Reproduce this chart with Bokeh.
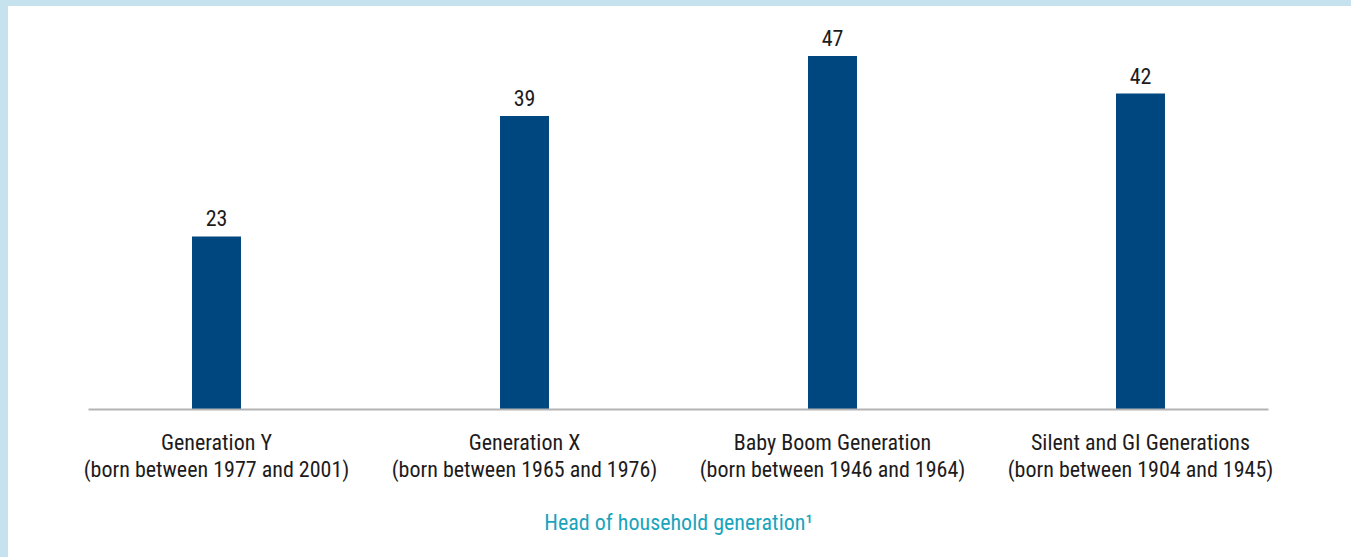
from bokeh.plotting import figure
from bokeh.models import Range1d, FixedTicker, ColumnDataSource, Spacer
from bokeh.layouts import row, column
from bokeh.core.properties import value
from bokeh.embed import file_html
from bokeh.resources import INLINE

categories = [
    "Generation Y\n(born between 1977 and 2001)",
    "Generation X\n(born between 1965 and 1976)",
    "Baby Boom Generation\n(born between 1946 and 1964)",
    "Silent and GI Generations\n(born between 1904 and 1945)",
]
values = [23, 39, 47, 42]
axis_title = "Head of household generation\u00b9"

FONT = "Roboto Condensed"
TXT = "#1e1b1c"
FRAME_BG = "#c6e2ef"

xs = list(range(len(categories)))
src = ColumnDataSource(dict(x=xs, top=values, lbl=[str(v) for v in values]))

p = figure(width=1343, height=551, output_backend="svg", toolbar_location=None,
           x_range=Range1d(-0.4156, 3.4156), y_range=Range1d(0, 53.3),
           min_border_left=80, min_border_right=83, min_border_top=2, min_border_bottom=148)
p.outline_line_color = None
p.background_fill_color = "white"
p.border_fill_color = "white"
p.xgrid.visible = False
p.ygrid.visible = False
p.yaxis.visible = False

p.vbar(x="x", top="top", width=0.159, bottom=0, source=src, fill_color="#00467f", line_color=None)
p.text(x="x", y="top", text="lbl", source=src, y_offset=-10, text_align="center",
       text_baseline="bottom", text_font=value(FONT), text_font_size="22px", text_color=TXT)

ax = p.xaxis[0]
ax.ticker = FixedTicker(ticks=xs)
ax.major_label_overrides = {i: c for i, c in zip(xs, categories)}
ax.major_tick_line_color = None
ax.minor_tick_line_color = None
ax.major_tick_out = 0
ax.major_tick_in = 0
ax.axis_line_color = "#b3b3b3"
ax.axis_line_width = 2
ax.major_label_standoff = 20
ax.major_label_text_font = FONT
ax.major_label_text_font_size = "22px"
ax.major_label_text_color = TXT
ax.major_label_text_line_height = 1.1
ax.axis_label = axis_title
ax.axis_label_text_font = FONT
ax.axis_label_text_font_size = "22px"
ax.axis_label_text_font_style = "normal"
ax.axis_label_text_color = "#1aa4bc"
ax.axis_label_standoff = 25

left_strip = Spacer(width=8, height=557, styles={"background-color": FRAME_BG})
top_strip = Spacer(width=1343, height=6, styles={"background-color": FRAME_BG})
layout = row(left_strip, column(top_strip, p, spacing=0), spacing=0)

open("out.html", "w").write(file_html(layout, INLINE))
